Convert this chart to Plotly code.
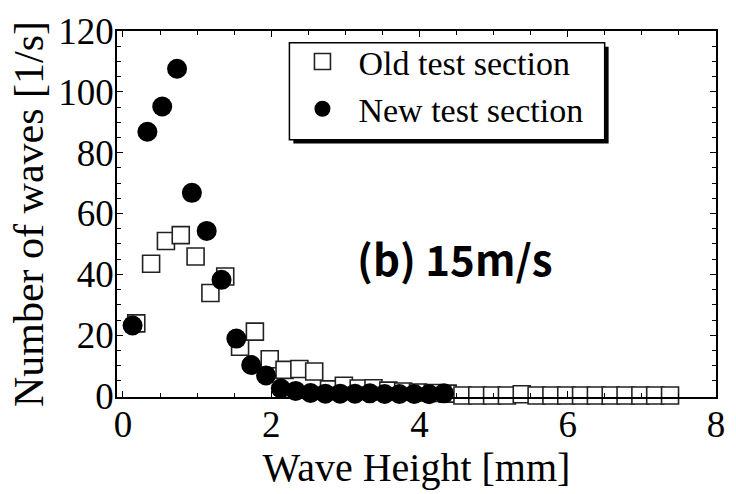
import plotly.graph_objects as go

# Data
old_x = [0.18, 0.38, 0.58, 0.78, 0.98, 1.18, 1.38, 1.58, 1.78, 1.98,
         2.18, 2.38, 2.58, 2.78, 2.98, 3.18, 3.38, 3.58, 3.78, 3.98,
         4.18, 4.38, 4.58, 4.78, 4.98, 5.18, 5.38, 5.58, 5.78, 5.98,
         6.18, 6.38, 6.58, 6.78, 6.98, 7.18, 7.38]
old_y = [23.9, 43.5, 51.0, 52.9, 45.9, 33.9, 39.3, 16.2, 21.2, 12.1,
         8.6, 8.9, 8.1, 2.2, 3.4, 2.5, 2.6, 1.8, 1.5, 1.2,
         1.0, 0.8, 0.2, 0.2, 0.2, 0.2, 0.6, 0.2, 0.2, 0.2,
         0.2, 0.2, 0.2, 0.2, 0.2, 0.2, 0.2]

new_x = [0.13, 0.33, 0.53, 0.73, 0.93, 1.13, 1.33, 1.53, 1.73, 1.93,
         2.13, 2.33, 2.53, 2.73, 2.93, 3.13, 3.33, 3.53, 3.73, 3.93,
         4.13, 4.33]
new_y = [23.2, 86.9, 95.2, 107.6, 66.8, 54.3, 38.2, 18.9, 10.2, 6.8,
         2.5, 1.7, 1.0, 0.8, 0.8, 0.8, 0.9, 0.7, 0.7, 0.7,
         0.6, 0.9]

x_ticks = [0, 2, 4, 6, 8]
y_ticks = [0, 20, 40, 60, 80, 100, 120]

SERIF = "Liberation Serif"

L, R, T, B = 117, 725, 23, 397  # plot area in pixels
PW, PH = R - L, B - T


def px(xp):
    return (xp - L) / PW


def py(yp):
    return (B - yp) / PH


fig = go.Figure()
fig.add_trace(go.Scatter(
    x=old_x, y=old_y, mode="markers", name="Old test section",
    marker=dict(symbol="square", size=17, color="white",
                line=dict(color="#222", width=1.6)),
    cliponaxis=False,
))
fig.add_trace(go.Scatter(
    x=new_x, y=new_y, mode="markers", name="New test section",
    marker=dict(symbol="circle", size=20, color="black",
                line=dict(width=0)),
    cliponaxis=False,
))

axis_common = dict(
    showline=True, linecolor="black", linewidth=1.5, mirror="ticks",
    ticks="inside", ticklen=6, tickwidth=1.2, tickcolor="black",
    showgrid=False, zeroline=False,
    tickfont=dict(family=SERIF, size=37, color="black"),
    ticklabelstandoff=-6,
)

fig.update_xaxes(
    range=[-0.08, 8], tickvals=x_ticks, ticktext=[str(v) for v in x_ticks],
    minor=dict(dtick=0.5, ticks="inside", ticklen=4, tickcolor="black", tickwidth=1),
    title=dict(text="Wave Height [mm]", font=dict(family=SERIF, size=40, color="black"), standoff=2),
    **axis_common,
)
fig.update_yaxes(
    range=[-0.3, 120], tickvals=y_ticks, ticktext=[str(v) for v in y_ticks],
    minor=dict(dtick=5, ticks="inside", ticklen=4, tickcolor="black", tickwidth=1),
    title=dict(text="Number of waves [1/s]", font=dict(family=SERIF, size=42, color="black"), standoff=2),
    **axis_common,
)

fig.add_annotation(
    x=px(460), y=py(254), xref="x domain", yref="y domain", showarrow=False,
    text="<b>(b) 15m/s</b>",
    font=dict(family="Noto Sans CJK JP", size=42, color="black"),
)

# legend frame with its drop shadow
fig.add_shape(type="rect", xref="paper", yref="paper",
              x0=px(296), x1=px(616), y0=py(138), y1=py(39),
              fillcolor="black", line=dict(width=0), layer="above")
fig.add_shape(type="rect", xref="paper", yref="paper",
              x0=px(292), x1=px(612), y0=py(134), y1=py(35),
              fillcolor="white", line=dict(color="black", width=1.5), layer="above")

fig.update_layout(
    width=736, height=494,
    margin=dict(l=L, r=736 - R, t=T, b=494 - B),
    paper_bgcolor="white", plot_bgcolor="white",
    font=dict(family=SERIF, size=37, color="black"),
    showlegend=True,
    legend=dict(
        x=px(289), y=py(25), xanchor="left", yanchor="top",
        bgcolor="rgba(0,0,0,0)", borderwidth=0,
        font=dict(family=SERIF, size=34, color="black"),
        tracegroupgap=0, itemwidth=62,
    ),
)

fig.write_html("out.html")
